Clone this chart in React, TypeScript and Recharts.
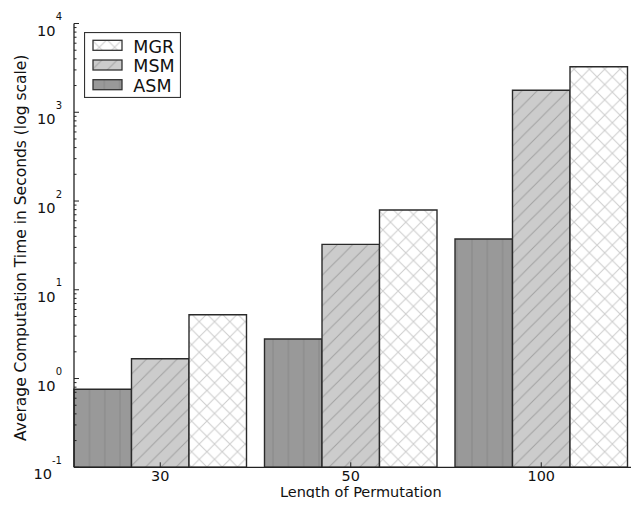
import { BarChart, Bar, XAxis, YAxis, Legend, Label } from 'recharts';

// permutation lengths on the x axis
const CATEGORIES = ['30', '50', '100'];
// average computation time (s)
const ASM_TIMES = [0.757, 2.79, 37.3];
const MSM_TIMES = [1.67, 32.5, 1767];
const MGR_TIMES = [5.24, 79.2, 3261];

const Y_MAJOR = [0.1, 1, 10, 100, 1000, 10000];
const Y_EXPONENTS = ['-1', '0', '1', '2', '3', '4'];
const MINOR_STEPS = [2, 3, 4, 5, 6, 7, 8, 9];

const X_TITLE = 'Length of Permutation';
const Y_TITLE = 'Average Computation Time in Seconds (log scale)';

const FONT = '"DejaVu Sans", sans-serif';
const INK = '#222';
const HATCH = 15.3;

const SERIES = [
  { key: 'ASM', fill: 'url(#hatch-asm)' },
  { key: 'MSM', fill: 'url(#hatch-msm)' },
  { key: 'MGR', fill: 'url(#hatch-mgr)' },
];

const data = CATEGORIES.map((len, i) => ({
  len,
  ASM: ASM_TIMES[i],
  MSM: MSM_TIMES[i],
  MGR: MGR_TIMES[i],
}));

const yTicks = [
  ...Y_MAJOR,
  ...Y_MAJOR.slice(0, -1).flatMap((d) => MINOR_STEPS.map((m) => +(d * m).toPrecision(3))),
];

// matplotlib-style ticks: inward, with 10^n labels
function YTick({ x, y, payload }: any) {
  const i = Y_MAJOR.indexOf(payload.value);
  if (i < 0) {
    return <line x1={x} x2={x + 2.5} y1={y} y2={y} stroke={INK} strokeWidth={1} />;
  }
  return (
    <g>
      <line x1={x} x2={x + 5} y1={y} y2={y} stroke={INK} strokeWidth={1} />
      <text x={x - 12} y={y + 12} textAnchor="end" fontSize={14.6} fontFamily={FONT} fill="#111">
        10
        <tspan dy={-15.5} fontSize={10}>
          {Y_EXPONENTS[i]}
        </tspan>
      </text>
    </g>
  );
}

function XTick({ x, y, payload }: any) {
  return (
    <g>
      <line x1={x} x2={x} y1={y} y2={y - 5} stroke={INK} strokeWidth={1} />
      <text x={x} y={y + 14} textAnchor="middle" fontSize={14.4} fontFamily={FONT} fill="#111">
        {payload.value}
      </text>
    </g>
  );
}

function TopTick({ x, y }: any) {
  return <line x1={x} x2={x} y1={y} y2={y + 5} stroke={INK} strokeWidth={1} />;
}

const XTitle = () => (
  <text x={352.8} y={488.5} textAnchor="middle" fontSize={14.5} fontFamily={FONT} fill="#111">
    {X_TITLE}
  </text>
);

const YTitle = () => (
  <text
    x={18}
    y={239.8}
    transform="rotate(-90, 18, 239.8)"
    textAnchor="middle"
    fontSize={15.5}
    fontFamily={FONT}
    fill="#111"
  >
    {Y_TITLE}
  </text>
);

function LegendBox() {
  const rows = [...SERIES].reverse();
  return (
    <svg width={97} height={66} style={{ display: 'block' }}>
      <rect x={0.5} y={0.5} width={96} height={65} fill="#fff" stroke="#333" strokeWidth={1.2} />
      {rows.map((s, i) => (
        <g key={s.key}>
          <rect x={9} y={8.3 + i * 19.7} width={29} height={10} fill={s.fill} stroke="#333" strokeWidth={1.3} />
          <text x={49.3} y={20.7 + i * 19.7} fontSize={17.5} fontFamily={FONT} fill="#111">
            {s.key}
          </text>
        </g>
      ))}
    </svg>
  );
}

export default function App() {
  const s = HATCH;
  return (
    <BarChart
      width={623}
      height={490}
      data={data}
      margin={{ top: 15.5, right: 0, bottom: 0, left: 0 }}
      barGap={0}
      barSize={57.5}
    >
      <defs>
        <pattern id="hatch-asm" patternUnits="userSpaceOnUse" width={s} height={s} x={5 - s / 2}>
          <rect width={s} height={s} fill="#999999" />
          <line x1={s / 2} y1={0} x2={s / 2} y2={s} stroke="#878787" strokeWidth={1} />
        </pattern>
        <pattern id="hatch-msm" patternUnits="userSpaceOnUse" width={s} height={s}>
          <rect width={s} height={s} fill="#cccccc" />
          <path
            d={`M0,${s} L${s},0 M-1,1 L1,-1 M${s - 1},${s + 1} L${s + 1},${s - 1}`}
            stroke="#a2a2a2"
            strokeWidth={1}
          />
        </pattern>
        <pattern id="hatch-mgr" patternUnits="userSpaceOnUse" width={s} height={s}>
          <rect width={s} height={s} fill="#ffffff" />
          <path
            d={`M0,${s} L${s},0 M0,0 L${s},${s} M-1,1 L1,-1 M${s - 1},${s + 1} L${s + 1},${s - 1} M-1,${s - 1} L1,${s + 1} M${s - 1},-1 L${s + 1},1`}
            stroke="#cdcdcd"
            strokeWidth={1}
          />
        </pattern>
      </defs>
      {SERIES.map((ser) => (
        <Bar
          key={ser.key}
          dataKey={ser.key}
          fill={ser.fill}
          stroke="#2a2a2a"
          strokeWidth={1.4}
          isAnimationActive={false}
        />
      ))}
      <XAxis
        dataKey="len"
        height={30.7}
        padding={{ left: -9, right: -5.5 }}
        axisLine={{ stroke: INK, strokeWidth: 1.3 }}
        tickLine={false}
        tickSize={0}
        tickMargin={0}
        interval={0}
        tick={<XTick />}
      >
        <Label content={XTitle} />
      </XAxis>
      <XAxis
        xAxisId="top"
        orientation="top"
        dataKey="len"
        height={0}
        padding={{ left: -9, right: -5.5 }}
        axisLine={{ stroke: INK, strokeWidth: 1.3 }}
        tickLine={false}
        tickSize={0}
        tickMargin={0}
        interval={0}
        tick={<TopTick />}
      />
      <YAxis
        type="number"
        scale="log"
        domain={[0.1, 10000]}
        allowDataOverflow
        ticks={yTicks}
        interval={0}
        width={66}
        axisLine={{ stroke: INK, strokeWidth: 1.3 }}
        tickLine={false}
        tickSize={0}
        tickMargin={0}
        tick={<YTick />}
      >
        <Label content={YTitle} />
      </YAxis>
      <Legend
        layout="vertical"
        align="center"
        verticalAlign="middle"
        wrapperStyle={{ top: 24, left: 76, width: 97, height: 66 }}
        content={LegendBox}
      />
    </BarChart>
  );
}
